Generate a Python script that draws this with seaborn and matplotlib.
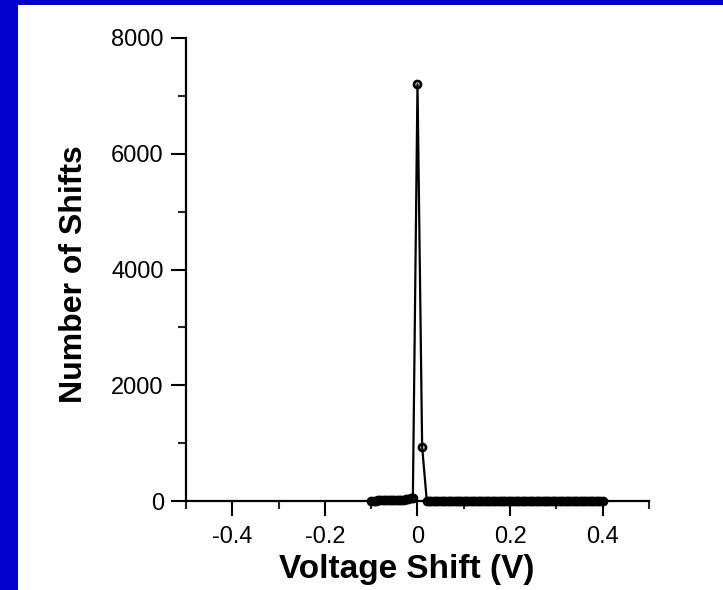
import numpy as np
import pandas as pd
import seaborn as sns
import matplotlib.pyplot as plt
from matplotlib.patches import Rectangle
from matplotlib.ticker import MultipleLocator

# histogram of voltage shifts: dense small bins in the tails, peak around 0 V
left_shift = np.round(np.arange(-0.100, -0.0149, 0.005), 3)
left_counts = [5, 8, 6, 9, 10, 12, 9, 11, 15, 12, 18, 20, 16, 22, 25, 30, 35, 45]
peak_shift = [-0.01, 0.0, 0.01]
peak_counts = [60, 7200, 940]
right_shift = np.round(np.arange(0.020, 0.4001, 0.005), 3)
right_counts = [8, 7, 6, 5, 6, 7, 5, 4, 6, 5, 4, 5, 3, 4, 5, 4, 6, 5, 4, 3,
                5, 4, 3, 4, 3, 4, 3, 2, 3, 4, 3, 2, 3, 2, 3, 2, 2, 3, 2, 3,
                2, 2, 3, 2, 2, 1, 2, 2, 1, 2, 2, 1, 2, 1, 1, 2, 1, 2, 1, 1,
                2, 1, 1, 1, 2, 1, 1, 1, 1, 1, 1, 1, 2, 1, 1, 1, 1]

shifts = list(left_shift) + peak_shift + list(right_shift)
counts = left_counts + peak_counts + right_counts
df = pd.DataFrame({'shift': shifts, 'count': counts})

sns.set_style('ticks')
plt.rcParams['font.family'] = ['Liberation Sans', 'DejaVu Sans']

fig = plt.figure(figsize=(7.23, 5.90), dpi=100)
fig.patch.set_facecolor('#0000cc')
# white slide panel, leaves a blue strip at top and left
fig.patches.append(Rectangle((18 / 723, 0), 1, 1 - 5 / 590, transform=fig.transFigure,
                             facecolor='white', edgecolor='none', zorder=-10))

ax = fig.add_axes([186 / 723, 1 - 501 / 590, 463 / 723, 463 / 590])
ax.set_facecolor('none')

sns.lineplot(data=df, x='shift', y='count', ax=ax, color='black', linewidth=1.6,
             marker='o', markersize=5, markerfacecolor='none',
             markeredgecolor='black', markeredgewidth=2.0, clip_on=False)

ax.set_xlim(-0.5, 0.5)
ax.set_ylim(0, 8000)
ax.xaxis.set_minor_locator(MultipleLocator(0.1))
ax.yaxis.set_major_locator(MultipleLocator(2000))
ax.yaxis.set_minor_locator(MultipleLocator(1000))
ax.set_xticks([-0.4, -0.2, 0, 0.2, 0.4])
ax.set_xticklabels(['-0.4', '-0.2', '0', '0.2', '0.4'])

sns.despine(ax=ax)
for side in ['left', 'bottom']:
    ax.spines[side].set_linewidth(1.6)
    ax.spines[side].set_color('black')
ax.tick_params(which='major', direction='out', length=11, width=1.5,
               labelsize=17, colors='black')
ax.tick_params(axis='x', which='major', pad=7)
ax.tick_params(axis='y', which='major', pad=5)
ax.tick_params(which='minor', direction='out', length=6, width=1.5)

ax.set_xlabel('Voltage Shift (V)', fontsize=24, fontweight='bold', color='black')
ax.set_ylabel('Number of Shifts', fontsize=23, fontweight='bold', color='black')
ax.xaxis.set_label_coords(0.477, -0.115)
ax.yaxis.set_label_coords(-0.21, 0.49)

fig.savefig('out.png', dpi=100, facecolor=fig.get_facecolor())
